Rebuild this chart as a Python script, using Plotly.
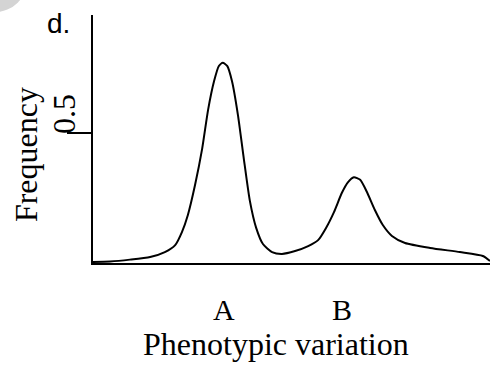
import plotly.graph_objects as go

# Curve: phenotypic value (x) vs frequency (y)
phenotype = [0.0, 0.43, 0.93, 1.44, 1.81, 2.07, 2.24, 2.39, 2.57, 2.75, 2.90, 3.05, 3.17, 3.27,
             3.38, 3.50, 3.65, 3.80, 3.95, 4.11, 4.28, 4.51, 4.76, 5.09, 5.42, 5.67, 5.87,
             6.07, 6.27, 6.42, 6.57, 6.73, 6.90, 7.10, 7.30, 7.53, 7.86, 8.49, 9.24, 9.82, 10.0]
frequency = [0.004, 0.006, 0.013, 0.023, 0.042, 0.069, 0.119, 0.185, 0.30, 0.44, 0.59, 0.70, 0.758, 0.77,
             0.758, 0.70, 0.57, 0.40, 0.24, 0.135, 0.073, 0.042, 0.035, 0.046, 0.065, 0.088, 0.135,
             0.196, 0.27, 0.31, 0.33, 0.32, 0.273, 0.204, 0.146, 0.104, 0.077, 0.058, 0.042, 0.027, 0.008]

peak_labels = ["A", "B"]
peak_positions = [3.3, 6.27]
y_tick_vals = [0.5]
y_tick_text = ["0.5"]

serif = "Liberation Serif, Times New Roman, serif"
fsize = 32

fig = go.Figure()
fig.add_trace(go.Scatter(x=phenotype, y=frequency, mode="lines",
                         line=dict(color="black", width=2, shape="spline", smoothing=0.6),
                         hoverinfo="skip", showlegend=False))

annotations = []
for lab, pos in zip(peak_labels, peak_positions):
    annotations.append(dict(text=lab, x=pos, xref="x", xanchor="center", y=0, yref="paper",
                            yanchor="middle", yshift=-46, showarrow=False, borderpad=0,
                            font=dict(family=serif, size=30, color="black")))
annotations.append(dict(text="Phenotypic variation", x=0.461, xref="paper", xanchor="center",
                        y=0, yref="paper", yanchor="middle", yshift=-81, showarrow=False, borderpad=0,
                        font=dict(family=serif, size=fsize, color="black")))
annotations.append(dict(text="Frequency", x=0, xref="paper", xanchor="center", xshift=-67,
                        y=0.435, yref="paper", yanchor="middle", textangle=-90, showarrow=False,
                        borderpad=0, font=dict(family=serif, size=fsize, color="black")))
for v, t in zip(y_tick_vals, y_tick_text):
    annotations.append(dict(text=t, x=0, xref="paper", xanchor="center", xshift=-29, y=v, yref="y",
                            yanchor="middle", yshift=19, textangle=-90, showarrow=False, borderpad=0,
                            font=dict(family=serif, size=fsize, color="black")))
annotations.append(dict(text="d.", x=0, xref="paper", xanchor="center", xshift=-35, y=1, yref="paper",
                        yanchor="middle", yshift=-8, showarrow=False, borderpad=0,
                        font=dict(family="Liberation Sans, Arial, sans-serif", size=28, color="black")))

fig.update_layout(
    width=492, height=366,
    margin=dict(l=93, r=2, t=15, b=103),
    paper_bgcolor="white", plot_bgcolor="white",
    xaxis=dict(range=[0, 10], showgrid=False, zeroline=False, showline=True, linecolor="black",
               linewidth=2, showticklabels=False, ticks="", fixedrange=True),
    yaxis=dict(range=[0, 0.954], showgrid=False, zeroline=False, showline=True, linecolor="black",
               linewidth=1.5, tickvals=y_tick_vals, ticks="outside", ticklen=24, tickwidth=1.5,
               tickcolor="black", showticklabels=False, fixedrange=True),
    annotations=annotations,
    shapes=[dict(type="circle", xref="paper", yref="paper", x0=-0.327, x1=-0.166, y0=1.012, y1=1.270,
                 fillcolor="#d4d4d4", line=dict(width=0), layer="below")],
)

fig.write_html("out.html", config={"displayModeBar": False},
               post_script="document.body.style.margin='0px';")
